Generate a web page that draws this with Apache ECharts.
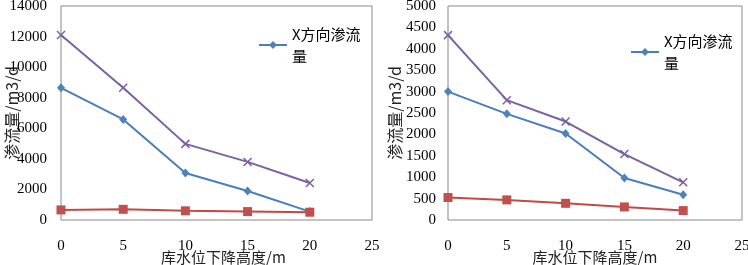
<!DOCTYPE html>
<html>
<head>
<meta charset="utf-8">
<script src="https://cdn.jsdelivr.net/npm/echarts@6/dist/echarts.min.js"></script>
<style>
html,body{margin:0;padding:0;background:#fff;}
#main{width:748px;height:265px;}
</style>
</head>
<body>
<div id="main"></div>
<script>
// 库水位下降高度 (m)
var xs = [0, 5, 10, 15, 20];
// 左图
var leftX = [8650, 6580, 3080, 1900, 550];
var leftY = [660, 700, 600, 550, 510];
var leftT = [12100, 8650, 4980, 3800, 2420];
// 右图
var rightX = [3000, 2480, 2020, 980, 590];
var rightY = [525, 470, 390, 305, 220];
var rightT = [4320, 2800, 2300, 1540, 880];

function pairs(v){
	var out = [];
	for (var i = 0; i < xs.length; i++) out.push([xs[i], v[i]]);
	return out;
}

var serif = 'Liberation Serif';
var cjk = 'Noto Sans CJK SC';
var xMark = 'path://M0,0L10,10M10,0L0,10';

function xAxisOf(g, shift){
	return {
		type: 'value', gridIndex: g, min: 0, max: 25, interval: 5,
		axisLine: {show: false}, axisTick: {show: false}, splitLine: {show: false},
		axisLabel: {margin: 19, color: '#000', fontFamily: serif, fontSize: 15,
			formatter: function(v){ return String(v); }},
		name: '库水位下降高度/m', nameLocation: 'middle', nameGap: 30, nameMoveOverlap: false,
		nameTextStyle: {color: '#222', fontFamily: cjk, fontSize: 15, padding: [0, 0, 0, shift]}
	};
}
function yAxisOf(g, max, step, gap, margin){
	return {
		type: 'value', gridIndex: g, min: 0, max: max, interval: step,
		axisLine: {show: false}, axisTick: {show: false}, splitLine: {show: false},
		axisLabel: {margin: margin, color: '#000', fontFamily: serif, fontSize: 15,
			formatter: function(v){ return String(v); }},
		name: '渗流量/m3/d', nameLocation: 'middle', nameGap: gap, nameMoveOverlap: false,
		nameTextStyle: {color: '#222', fontFamily: cjk, fontSize: 16}
	};
}
function blue(g, data){
	return {name: 'X方向渗流量', type: 'line', xAxisIndex: g, yAxisIndex: g,
		data: pairs(data), symbol: 'diamond', symbolSize: [8, 9],
		lineStyle: {color: '#4a7ebb', width: 2}, itemStyle: {color: '#4f81bd'}};
}
function red(g, data){
	return {name: 'Y方向渗流量', type: 'line', xAxisIndex: g, yAxisIndex: g,
		data: pairs(data), symbol: 'rect', symbolSize: 9,
		lineStyle: {color: '#be4b48', width: 2}, itemStyle: {color: '#c0504d'}};
}
function purple(g, data){
	return {name: '总渗流量', type: 'line', xAxisIndex: g, yAxisIndex: g,
		data: pairs(data), symbol: xMark, symbolSize: 8,
		lineStyle: {color: '#7d60a0', width: 2},
		itemStyle: {color: '#7d60a0', borderColor: '#7d60a0', borderWidth: 1.5}};
}
function legendOf(left, top){
	return {
		data: ['X方向渗流量'], left: left, top: top, itemWidth: 28, itemHeight: 10, itemGap: 4,
		formatter: function(n){ return 'X方向渗流\n量'; },
		textStyle: {color: '#000', fontFamily: cjk, fontSize: 15, lineHeight: 22, padding: [22, 0, 0, 0]}
	};
}

var mychart = echarts.init(document.getElementById('main'));
var option = {
	animation: false,
	backgroundColor: '#fff',
	legend: [legendOf(253, 7), legendOf(625, 14)],
	grid: [
		{left: 61, top: 6, width: 311, height: 214, show: true, borderColor: '#888', borderWidth: 1,
			outerBoundsMode: 'none', containLabel: false},
		{left: 448, top: 6, width: 294, height: 214, show: true, borderColor: '#888', borderWidth: 1,
			outerBoundsMode: 'none', containLabel: false}
	],
	xAxis: [xAxisOf(0, 14), xAxisOf(1, 0)],
	yAxis: [yAxisOf(0, 14000, 2000, 41, 14), yAxisOf(1, 5000, 500, 45, 12)],
	series: [blue(0, leftX), red(0, leftY), purple(0, leftT),
		blue(1, rightX), red(1, rightY), purple(1, rightT)]
};
mychart.setOption(option);
</script>
</body>
</html>
